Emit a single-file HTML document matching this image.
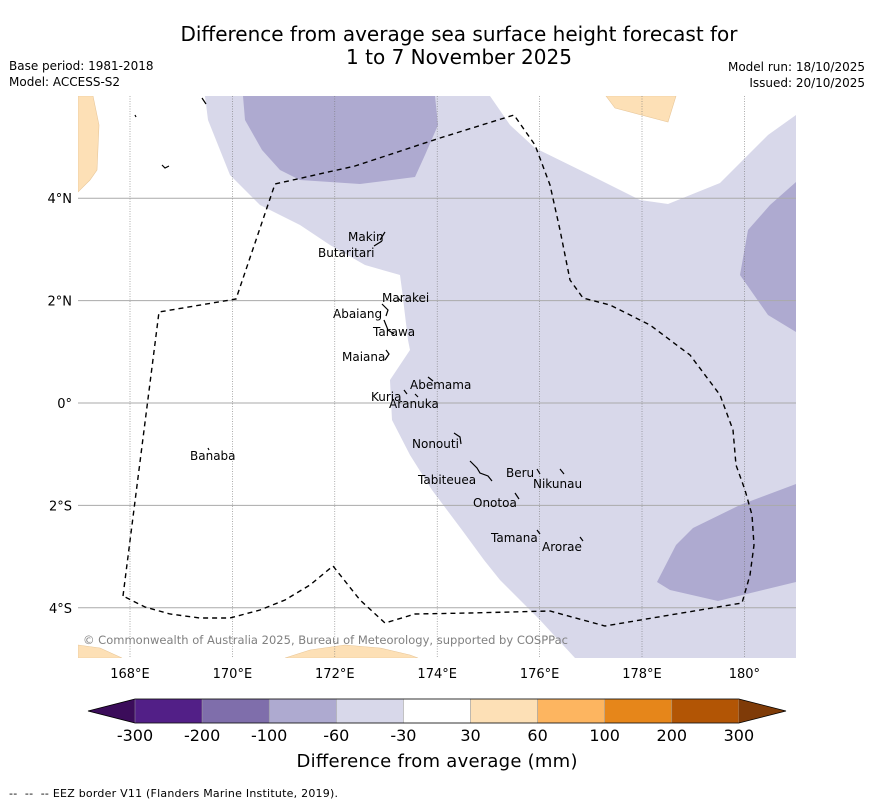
<!DOCTYPE html>
<html><head><meta charset="utf-8"><style>
body{margin:0;background:#fff;font-family:"Liberation Sans","DejaVu Sans",sans-serif;}
svg text{font-family:"DejaVu Sans","Liberation Sans",sans-serif;}
</style></head><body>
<svg id="fig" width="873" height="804" viewBox="0 0 873 804" xmlns="http://www.w3.org/2000/svg">
<text x="459" y="41" font-size="20" text-anchor="middle">Difference from average sea surface height forecast for</text>
<text x="459" y="64" font-size="20" text-anchor="middle">1 to 7 November 2025</text>
<text x="9" y="70" font-size="12">Base period: 1981-2018</text>
<text x="9" y="86" font-size="12">Model: ACCESS-S2</text>
<text x="865" y="71" font-size="12" text-anchor="end">Model run: 18/10/2025</text>
<text x="865" y="87" font-size="12" text-anchor="end">Issued: 20/10/2025</text>
<g id="map">
<clipPath id="mc"><rect x="78" y="96" width="718" height="562"/></clipPath>
<g clip-path="url(#mc)">
<rect x="78" y="96" width="718" height="562" fill="#fff"/>
<polygon fill="#d8d8ea" points="205,96 208,120 230,175 260,205 300,225 330,245 365,265 400,275 402,290 408,340 410,350 390,380 392,420 410,455 432,490 462,530 484,560 500,580 540,620 575,658 796,658 796,115 768,135 720,183 668,204 640,200 590,175 535,148 510,125 490,96"/>
<polygon fill="#aeaad0" points="243,96 245,120 262,150 280,170 300,180 360,184 415,177 425,155 438,125 435,96"/>
<polygon fill="#aeaad0" points="796,182 770,205 748,230 740,275 768,315 796,332"/>
<polygon fill="#aeaad0" points="796,484 740,505 693,528 676,545 657,582 670,590 718,601 796,582"/>
<g fill="#fde0b6" stroke="#e8c79a" stroke-width="0.6">
<polygon points="78,96 93,96 99,125 97,170 90,180 78,192"/>
<polygon points="606,96 676,96 668,122 615,108"/>
<polygon points="78,645 100,648 122,658 78,658"/>
<polygon points="285,658 310,650 345,645 380,648 410,655 418,658"/>
</g>
<g id="grid"></g>
<polygon fill="none" stroke="#000" stroke-width="1.4" stroke-dasharray="5,4" points="123,596 159,312 236,299 275,184 355,166 440,138 514,115 535,145 550,185 560,230 570,280 583,298 610,305 650,325 690,355 720,395 733,430 736,465 745,490 752,515 754,545 750,575 742,603 670,615 605,626 550,611 510,612 470,613 415,614 385,623 360,600 333,566 310,585 285,600 260,610 230,618 200,618 170,614 145,607 123,596"/>
<g stroke="#000" fill="none" stroke-width="1.2">
<path d="M380,240 L385,232 M374,246 L382,241"/><path d="M382,304 L388,310 L386,316"/><path d="M398,298 L401,301"/>
<path d="M384,320 L388,330 L394,334"/><path d="M386,350 L389,354 L385,360"/><path d="M428,377 L433,381"/>
<path d="M404,390 L407,394 M415,394 L418,397"/><path d="M454,433 L460,437 L461,444"/><path d="M470,461 L477,468 L480,473 L488,476 L492,481"/>
<path d="M537,469 L540,474 M560,469 L564,474"/><path d="M515,493 L519,499"/><path d="M537,530 L540,534 M580,537 L583,541"/>
<path d="M202,98 L206,104 M135,115 L136,117 M162,165 L165,168 L169,166 M208,448 L209,450"/>
</g>
<g font-size="12" fill="#000">
<text x="348" y="241">Makin</text><text x="318" y="257">Butaritari</text><text x="382" y="302">Marakei</text>
<text x="333" y="318">Abaiang</text><text x="373" y="336">Tarawa</text><text x="342" y="361">Maiana</text>
<text x="410" y="389">Abemama</text><text x="371" y="401">Kuria</text><text x="389" y="408">Aranuka</text>
<text x="190" y="460">Banaba</text><text x="412" y="448">Nonouti</text><text x="506" y="477">Beru</text>
<text x="418" y="484">Tabiteuea</text><text x="533" y="488">Nikunau</text><text x="473" y="507">Onotoa</text>
<text x="491" y="542">Tamana</text><text x="542" y="551">Arorae</text>
</g>
<text x="83" y="644" font-size="11.5" fill="#808080" textLength="485">© Commonwealth of Australia 2025, Bureau of Meteorology, supported by COSPPac</text>
</g>
<g id="axes" font-size="13" fill="#000"></g>
</g>
<g id="cbar"></g>
<text x="437" y="767" font-size="18" text-anchor="middle" textLength="281">Difference from average (mm)</text>
<text x="9" y="797" font-size="11" textLength="329" xml:space="preserve">--  --  -- EEZ border V11 (Flanders Marine Institute, 2019).</text>
</svg>
<script>
const lonTicks=[168,170,172,174,176,178,180];
const lonLabels=["168°E","170°E","172°E","174°E","176°E","178°E","180°"];
const latTicks=[4,2,0,-2,-4];
const latLabels=["4°N","2°N","0°","2°S","4°S"];
const cbarLevels=[-300,-200,-100,-60,-30,30,60,100,200,300];
const cbarColors=["#521f87","#7f6eab","#aeaad0","#d8d8ea","#ffffff","#fde0b6","#fdb560","#e6861a","#b25505"];
const NS="http://www.w3.org/2000/svg";
const lonX=l=>130+(l-168)*51.2;
const latY=l=>403-l*51.2;
function mk(t,a,p){const e=document.createElementNS(NS,t);for(const k in a)e.setAttribute(k,a[k]);p.appendChild(e);return e;}
const grid=document.getElementById('grid'),axes=document.getElementById('axes');
lonTicks.forEach((l,i)=>{const x=lonX(l);
 const g=mk('line',{x1:x,x2:x,y1:96,y2:658,stroke:'#777','stroke-width':0.6,'stroke-dasharray':'1,1.5'},grid);
 
 
 const t=mk('text',{x:x,y:678,'text-anchor':'middle'},axes);t.textContent=lonLabels[i];
 
 });
latTicks.forEach((l,i)=>{const y=latY(l);
 const g=mk('line',{x1:78,x2:796,y1:y,y2:y,stroke:'#aaa','stroke-width':1},grid);
 
 
 const t=mk('text',{x:72,y:y+5,'text-anchor':'end'},axes);t.textContent=latLabels[i];
 
 });
const cb=document.getElementById('cbar');
const cx0=135,cw=67.1,cy=699,ch=24;
const lt=mk('polygon',{points:`${cx0},${cy} 88,${cy+ch/2} ${cx0},${cy+ch}`,fill:'#3b0c5a'},cb);


cbarColors.forEach((c,i)=>{const r=mk('rect',{x:cx0+i*cw,y:cy,width:cw,height:ch,fill:c,stroke:'#999','stroke-width':0.5},cb);
 
 });
const xe=cx0+cbarColors.length*cw;
const rt=mk('polygon',{points:`${xe},${cy} 786,${cy+ch/2} ${xe},${cy+ch}`,fill:'#7f3b08'},cb);


mk('polygon',{points:`${cx0},${cy} 88,${cy+ch/2} ${cx0},${cy+ch} ${xe},${cy+ch} 786,${cy+ch/2} ${xe},${cy}`,fill:'none',stroke:'#000','stroke-width':0.8},cb);
cbarLevels.forEach((v,i)=>{const t=mk('text',{x:cx0+i*cw,y:741,'font-size':16,'text-anchor':'middle'},cb);t.textContent=v;
 
 });
</script>
</body></html>
